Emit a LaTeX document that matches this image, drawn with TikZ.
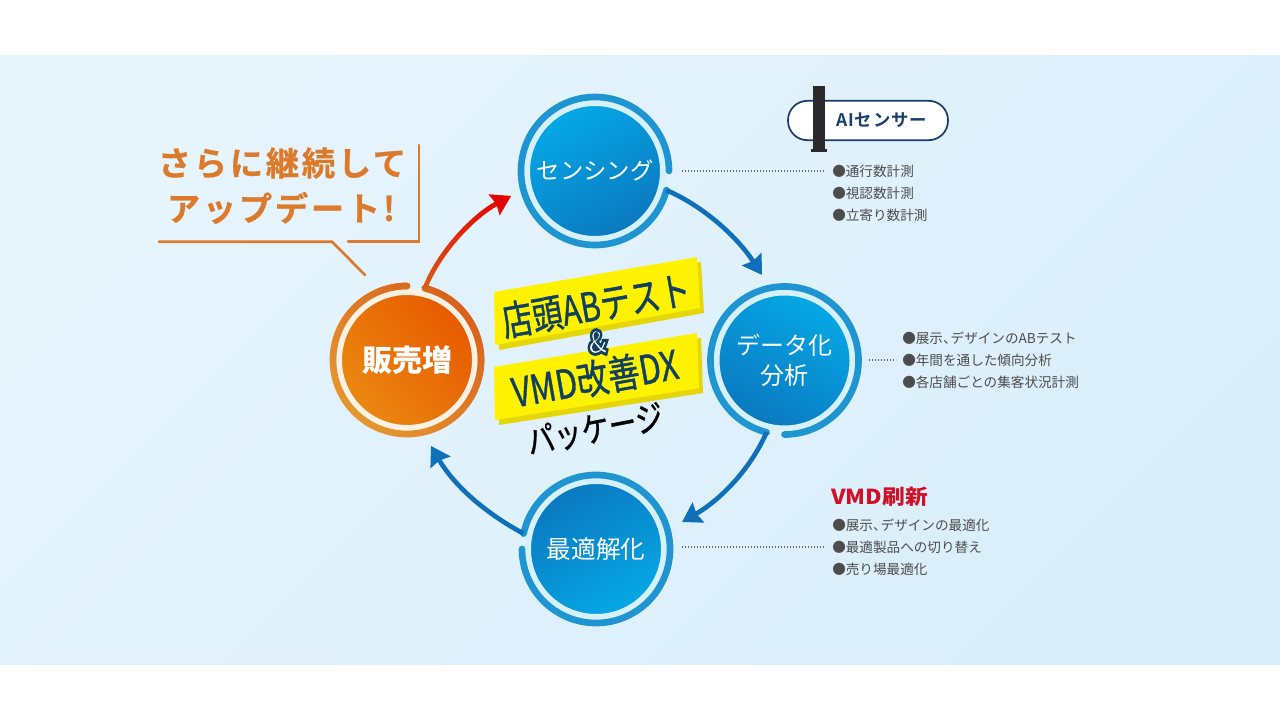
\documentclass[tikz,border=0pt]{standalone}
\usepackage{fontspec}
\setmainfont{Noto Sans CJK JP}
\newfontfamily\medfont[FakeBold=1.1]{Noto Sans CJK JP}
\newfontfamily\spacedbold[LetterSpace=8,FakeBold=.6]{Noto Sans CJK JP Bold}
\newfontfamily\pillfont[LetterSpace=5]{Noto Sans CJK JP Bold}
\usetikzlibrary{arrows.meta,calc,fadings,shadings}
\definecolor{bgA}{HTML}{E6F4FC}
\definecolor{bgB}{HTML}{D9EEFB}
\definecolor{ringblue}{HTML}{1E95D0}
\definecolor{ringlight}{HTML}{D6F1FB}
\definecolor{discA}{HTML}{05A8E6}
\definecolor{discB}{HTML}{0B78BF}
\definecolor{arrowblue}{HTML}{0F6FB8}
\definecolor{discOA}{HTML}{E98810}
\definecolor{discOB}{HTML}{E85A00}
\definecolor{ringOA}{HTML}{E69A32}
\definecolor{ringOB}{HTML}{D9601C}
\definecolor{ringOL}{HTML}{FDF1E3}
\definecolor{callout}{HTML}{DB7A2B}
\definecolor{navy}{HTML}{103F5F}
\definecolor{pillnavy}{HTML}{1A3E6C}
\definecolor{banner}{HTML}{FFF200}
\definecolor{bannerS}{HTML}{E5D60A}
\definecolor{listgray}{HTML}{4C4C4C}
\definecolor{vmdred}{HTML}{CE1126}
\definecolor{sensor}{HTML}{2A2A2C}
\tikzset{
  x=.75pt,y=-.75pt,
  disc/.style={circle,inner sep=0pt,minimum size=102pt,line width=4.5pt,draw=ringlight,
    text=white,font=\fontsize{18}{22.5}\selectfont,align=center},
  ring/.style={draw=ringblue,line width=5pt,line cap=round},
  flow/.style={draw=arrowblue,line width=3.5pt,-{Stealth[length=14pt,width=17pt,inset=1.5pt]}},
  listitem/.style={anchor=west,inner sep=0pt,text=listgray,font=\fontsize{10.2}{12}\selectfont},
  leader/.style={draw=listgray!85,line width=.8pt,dash pattern=on .8pt off 1.45pt,shorten >=4.5pt},
  bubble/.style={draw=callout,line width=2pt,line cap=round},
  bubbletext/.style={inner sep=0pt,text=callout,font=\fontsize{25}{30}\spacedbold},
  bannertext/.style={inner sep=0pt,text=navy,rotate=10,font=\fontsize{30}{36}\medfont}
}
\begin{document}
\begin{tikzpicture}
\useasboundingbox (0,0) rectangle (1280,720);
\shade[top color=bgA,bottom color=bgB,shading angle=45] (0,56) rectangle (1280,664);

% banners
\fill[bannerS] (498,297) -- (701,262) -- (704,313) -- (499,350) -- cycle;
\fill[banner] (494,292) -- (697,257) -- (700,308) -- (495,345) -- cycle;
\fill[bannerS] (498,372) -- (701,338) -- (703,393) -- (499,425) -- cycle;
\fill[banner] (494,367) -- (697,333) -- (699,388) -- (495,420) -- cycle;

% discs
\node[disc,shade,shading=axis,top color=discA,bottom color=discB,shading angle=30,font=\fontsize{17.5}{22.5}\selectfont] (sense) at (595,171) {センシング};
\node[disc,shade,shading=axis,top color=discA,bottom color=discB,shading angle=-30] (data) at (784.5,360.5) {データ化\\分析};
\node[disc,shade,shading=axis,top color=discB,bottom color=discA,shading angle=30,font=\fontsize{18.5}{24}\selectfont] (opt) at (596,549) {最適解化};
\node[disc,shade,shading=axis,top color=discOB,bottom color=discOA,shading angle=-50,draw=ringOL,font=\fontsize{22.5}{28}\selectfont\bfseries] (sales) at (407,360) {販売増};

% rings
\draw[ring] ($(sense)+(15:74)$) arc (15:360:74);
\draw[ring] ($(data)+(104:74)$) arc (104:450:74);
\draw[ring] ($(opt)+(-168:74)$) arc (-168:180:74);
\draw[ring,draw=ringOA] ($(sales)+(-76:74)$) arc (-76:270:74);
\draw[ring,draw=ringOB,path fading=west,fading angle=45] ($(sales)+(-76:74)$) arc (-76:270:74);

% flow arrows
\coordinate (f1a) at ($(sense)+(15:74)$);
\coordinate (f1b) at (762,275);
\coordinate (f2a) at ($(data)+(104:74)$);
\coordinate (f2b) at (682,522);
\coordinate (f3a) at ($(opt)+(-168:74)$);
\coordinate (f3b) at (431,446);
\coordinate (f4a) at ($(sales)+(-76:74)$);
\coordinate (f4b) at (511,196);
\draw[flow] (f1a) .. controls (705,207) and (738,238) .. (f1b);
\draw[flow] (f2a) .. controls (750,470) and (720,500) .. (f2b);
\draw[flow] (f3a) .. controls (487,514) and (455,487) .. (f3b);
\draw[flow,draw=ringOB] (f4a) .. controls (440,250) and (475,215) .. (f4b);
\draw[flow,draw=red!90!black,path fading=south] (f4a) .. controls (440,250) and (475,215) .. (f4b);

% banner text
\node[bannertext] (t1) at (596,305) {\scalebox{.76}[1]{店頭ABテスト}};
\node[bannertext] (t2) at (595,378) {\scalebox{.79}[1]{VMD改善DX}};
\node[inner sep=0pt,font=\fontsize{24}{28}\selectfont\bfseries] (amp) at (598,342) {\scalebox{.8}[1]{\special{pdf:code q 2 Tr 2.2 w 0.063 0.247 0.373 RG 1 1 1 rg}\&\special{pdf:code Q}}};
\node[inner sep=0pt,text=black,rotate=11,font=\fontsize{26}{30}\medfont] (pkg) at (595,429) {\scalebox{.8}[1]{パッケージ}};

% callout
\coordinate (b1) at (159,241.7);
\coordinate (b2) at (332,241.7);
\coordinate (b3) at (365,275);
\coordinate (b4) at (348,241.7);
\coordinate (b5) at (419,241.7);
\coordinate (b6) at (419,145);
\draw[bubble] (b1) -- (b2) -- (b3);
\draw[bubble] (b4) -- (b5) -- (b6);
\node[bubbletext] (c1) at (282,163) {さらに継続して};
\node[bubbletext] (c2) at (281,208) {アップデート!};

% sensor pill
\node[draw=pillnavy,line width=1.3pt,fill=white,rounded corners=14.5pt,minimum width=120pt,minimum height=29.5pt,inner sep=0pt] (pill) at (868,120.5) {};
\node[inner sep=0pt,text=pillnavy,font=\fontsize{13}{15}\pillfont] (pilltext) at (881.5,120.5) {AIセンサー};
\fill[sensor] (813,86) rectangle (825,150);
\fill[sensor] (811,149) rectangle (827,152);

% lists
\node[listitem] (s1) at (832,171) {●通行数計測};
\node[listitem] (s2) at (832,193) {●視認数計測};
\node[listitem] (s3) at (832,215) {●立寄り数計測};
\node[listitem] (d1) at (902,338) {●展示、\kern-4.5pt デザインのABテスト};
\node[listitem] (d2) at (902,360) {●年間を通した傾向分析};
\node[listitem] (d3) at (902,382) {●各店舗ごとの集客状況計測};
\node[inner sep=0pt,anchor=west,text=vmdred,font=\fontsize{15.5}{18}\selectfont\bfseries] (v0) at (831,497) {\scalebox{1.1}[1]{VMD刷新}};
\node[listitem] (v1) at (832,525) {●展示、\kern-4.5pt デザインの最適化};
\node[listitem] (v2) at (832,547) {●最適製品への切り替え};
\node[listitem] (v3) at (832,569) {●売り場最適化};

% leaders
\coordinate (l1) at (682,171);
\coordinate (l2) at (869,360);
\coordinate (l3) at (682,547);
\draw[leader] (l1) -- (s1.west);
\draw[leader] (l2) -- (d2.west);
\draw[leader] (l3) -- (v2.west);
\end{tikzpicture}
\end{document}
